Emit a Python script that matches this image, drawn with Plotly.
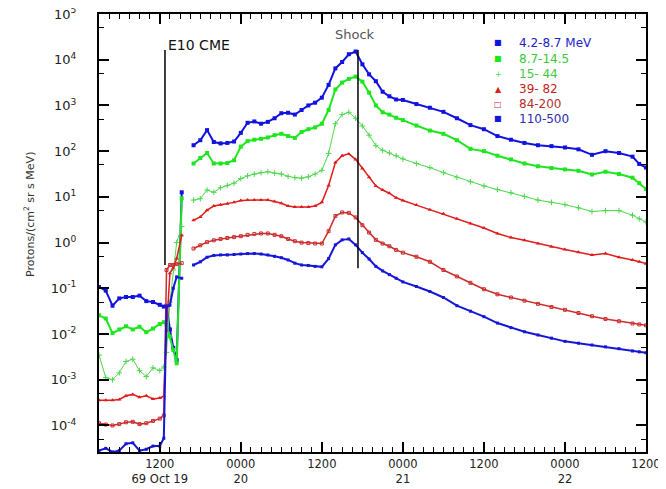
import pandas as pd
import plotly.graph_objects as go

# ---------------- data (log10 of proton flux) ----------------
BASE = pd.Timestamp("1989-10-19 00:00")

# hours since 19 Oct 00:00
HOURS_PRE = [3, 4, 5, 6, 7, 8, 9, 10, 11, 12, 12.6]
HOURS_SPIKE = [13.0, 13.5, 14.0, 14.5, 15.25]
HOURS_GAP = [16.0]
HOURS_MAIN = [17, 18, 19, 20, 21, 22, 23, 24, 25, 26, 27, 28, 29, 30, 31, 32,
              33, 34, 35, 36, 37, 38, 39, 40, 41, 42, 43, 44, 45, 46, 47, 48,
              50, 52, 54, 56, 58, 60, 62, 64, 66, 68, 70, 72, 74, 76, 78, 80, 82,
              83, 84]

CHANNELS = ["4.2-8.7 MeV", "8.7-14.5", "15- 44", "39- 82", "84-200", "110-500"]

# 4.2-8.7 MeV
LOG_A_PRE = [-0.97, -1.05, -1.38, -1.22, -1.19, -1.19, -1.16, -1.28, -1.30, -1.36, -1.40]
LOG_A_SPIKE = [-1.38, -1.90, -2.30, -2.57, 1.10]
LOG_A_MAIN = [2.13, 2.24, 2.46, 2.20, 2.17, 2.18, 2.21, 2.40, 2.62, 2.65, 2.60, 2.64, 2.72, 2.83, 2.84, 2.80,
              2.90, 3.00, 3.06, 3.17, 3.45, 3.81, 3.95, 4.12, 4.18, 3.90, 3.68, 3.53, 3.30, 3.20, 3.13, 3.12,
              3.03, 2.95, 2.86, 2.72, 2.57, 2.48, 2.33, 2.25, 2.18, 2.13, 2.11, 2.08, 2.04, 1.92, 2.00, 1.96, 1.88,
              1.72, 1.64]

# 8.7-14.5 MeV
LOG_B_PRE = [-1.59, -1.66, -1.98, -1.90, -1.83, -1.90, -1.84, -1.96, -1.88, -1.78, -1.74]
LOG_B_SPIKE = [-1.80, -2.05, -2.35, -2.64, 0.97]
LOG_B_MAIN = [1.73, 1.85, 1.96, 1.73, 1.73, 1.74, 1.80, 2.10, 2.22, 2.25, 2.27, 2.30, 2.35, 2.38, 2.33, 2.29,
              2.42, 2.48, 2.52, 2.60, 2.90, 3.35, 3.50, 3.58, 3.63, 3.52, 3.28, 3.00, 2.85, 2.80, 2.73, 2.68,
              2.56, 2.45, 2.38, 2.24, 2.05, 2.00, 1.90, 1.82, 1.73, 1.67, 1.63, 1.60, 1.57, 1.49, 1.55, 1.50, 1.42,
              1.30, 1.17]

# 15-44 MeV
LOG_C_PRE = [-2.46, -2.95, -3.00, -2.85, -2.60, -2.55, -2.80, -2.93, -2.74, -2.80, -2.72]
LOG_C_SPIKE = [-2.40, -1.30, -0.60, 0.00, 0.35]
LOG_C_MAIN = [0.93, 0.96, 1.15, 1.10, 1.20, 1.25, 1.30, 1.40, 1.46, 1.50, 1.53, 1.55, 1.52, 1.50, 1.45, 1.42,
              1.41, 1.44, 1.50, 1.58, 1.95, 2.60, 2.80, 2.85, 2.72, 2.55, 2.35, 2.12, 2.02, 1.96, 1.90, 1.83,
              1.73, 1.64, 1.53, 1.43, 1.33, 1.24, 1.16, 1.09, 1.01, 0.93, 0.88, 0.83, 0.76, 0.68, 0.70, 0.70, 0.60,
              0.52, 0.45]

# 39-82 MeV
LOG_D_PRE = [-3.45, -3.45, -3.45, -3.43, -3.35, -3.32, -3.38, -3.35, -3.42, -3.40, -3.36]
LOG_D_SPIKE = [-1.92, -0.67, -0.55, -0.35, 0.16]
LOG_D_MAIN = [0.49, 0.56, 0.71, 0.80, 0.83, 0.85, 0.88, 0.92, 0.93, 0.93, 0.93, 0.93, 0.90, 0.86, 0.80, 0.78,
              0.78, 0.78, 0.80, 0.88, 1.25, 1.75, 1.90, 1.94, 1.82, 1.62, 1.43, 1.24, 1.15, 1.08, 0.98, 0.92,
              0.82, 0.72, 0.63, 0.52, 0.42, 0.32, 0.20, 0.11, 0.05, -0.02, -0.09, -0.15, -0.21, -0.27, -0.24, -0.32, -0.38,
              -0.42, -0.46]

# 84-200 MeV
LOG_E_PRE = [-3.95, -3.98, -4.00, -3.97, -3.93, -3.92, -3.97, -3.95, -3.90, -3.85, -3.78]
LOG_E_SPIKE = [-0.60, -0.49, -0.49, -0.47, -0.45]
LOG_E_MAIN = [-0.13, -0.06, 0.01, 0.05, 0.08, 0.10, 0.12, 0.14, 0.17, 0.19, 0.20, 0.20, 0.17, 0.14, 0.08, 0.03,
              0.00, -0.01, -0.02, -0.02, 0.25, 0.58, 0.66, 0.65, 0.55, 0.38, 0.22, 0.06, -0.02, -0.08, -0.16, -0.22,
              -0.31, -0.42, -0.60, -0.74, -0.88, -1.02, -1.13, -1.20, -1.27, -1.34, -1.41, -1.47, -1.54, -1.61, -1.67, -1.72, -1.77,
              -1.79, -1.81]

# 110-500 MeV
LOG_F_PRE = [-4.55, -4.50, -4.58, -4.55, -4.40, -4.38, -4.55, -4.52, -4.45, -4.45, -4.28]
LOG_F_SPIKE = [-1.40, -1.37, -1.00, -0.75, -0.78]
LOG_F_MAIN = [-0.49, -0.42, -0.32, -0.28, -0.27, -0.27, -0.26, -0.25, -0.24, -0.24, -0.25, -0.27, -0.30, -0.33, -0.38, -0.45,
              -0.49, -0.50, -0.52, -0.53, -0.35, -0.05, 0.06, 0.08, -0.05, -0.22, -0.36, -0.52, -0.62, -0.70, -0.78, -0.86,
              -0.96, -1.07, -1.20, -1.38, -1.50, -1.62, -1.76, -1.86, -1.95, -2.02, -2.09, -2.16, -2.20, -2.24, -2.28, -2.32, -2.37,
              -2.39, -2.41]

# event markers (hours since 19 Oct 00:00) and their vertical extent (log10 flux)
CME_HOUR = 12.77
SHOCK_HOUR = 41.35
CME_LOG_SPAN = [4.21, -0.49]
SHOCK_LOG_SPAN = [4.21, -0.56]

# x-axis ticks
TICK_HOURS = [12, 24, 36, 48, 60, 72, 84]
TICK_TEXT = ["1200<br>69 Oct 19", "0000<br>20", "1200", "0000<br>21", "1200", "0000<br>22", "1200"]
X_RANGE_HOURS = [3, 84]
Y_LOG_RANGE = [-4.58, 5]
Y_DECADES = [-4, -3, -2, -1, 0, 1, 2, 3, 4, 5]

# ---------------- styling ----------------
LINE_COLORS = ["#1212e0", "#1ee61e", "#4cd84c", "#e01c1c", "#cc2c2c", "#1616d8"]
TEXT_COLORS = ["#2424c4", "#36c836", "#44c844", "#c42424", "#b43030", "#2c2cb4"]
LINE_WIDTHS = [2.0, 2.0, 1.0, 1.5, 1.5, 2.0]
MARKERS = ["square", "square", "cross-thin", "triangle-up", "square-open", "square"]
MARKER_SIZES = [4, 4, 4, 4, 3, 3]
LEGEND_GLYPHS = ["■", "■", "+", "▲", "□", "■"]
FONT = "DejaVu Sans"


def to_time(h):
    return BASE + pd.Timedelta(hours=h)


def build(pre, spike, main):
    hours = HOURS_PRE + HOURS_SPIKE + HOURS_GAP + HOURS_MAIN
    vals = pre + spike + [None] + main
    x = [to_time(h) for h in hours]
    y = [None if v is None else 10 ** v for v in vals]
    return x, y


SERIES = [
    (LOG_A_PRE, LOG_A_SPIKE, LOG_A_MAIN),
    (LOG_B_PRE, LOG_B_SPIKE, LOG_B_MAIN),
    (LOG_C_PRE, LOG_C_SPIKE, LOG_C_MAIN),
    (LOG_D_PRE, LOG_D_SPIKE, LOG_D_MAIN),
    (LOG_E_PRE, LOG_E_SPIKE, LOG_E_MAIN),
    (LOG_F_PRE, LOG_F_SPIKE, LOG_F_MAIN),
]

fig = go.Figure()

for i, (pre, spike, main) in enumerate(SERIES):
    x, y = build(pre, spike, main)
    mk = dict(symbol=MARKERS[i], size=MARKER_SIZES[i], color=LINE_COLORS[i])
    if MARKERS[i] in ("cross-thin", "square-open"):
        mk["line"] = dict(color=LINE_COLORS[i], width=1)
    fig.add_trace(go.Scatter(
        x=x, y=y, name=CHANNELS[i], mode="lines+markers",
        line=dict(color=LINE_COLORS[i], width=LINE_WIDTHS[i]),
        marker=mk, connectgaps=False, showlegend=False,
    ))

# vertical event lines
for hour, span in ((CME_HOUR, CME_LOG_SPAN), (SHOCK_HOUR, SHOCK_LOG_SPAN)):
    fig.add_trace(go.Scatter(
        x=[to_time(hour), to_time(hour)], y=[10 ** span[0], 10 ** span[1]],
        mode="lines", line=dict(color="black", width=1.5),
        showlegend=False, hoverinfo="skip",
    ))

# ---------------- layout ----------------
# The page's default body margin shifts the figure by 8 px, so the figure is
# sized/placed to land the plot frame at page pixels x 99..646, y 14..452.
PAGE_OFFSET = 8
W, H = 666 - PAGE_OFFSET, 489 - PAGE_OFFSET
FRAME_LEFT, FRAME_RIGHT, FRAME_TOP, FRAME_BOTTOM = 99, 646, 14, 452
L = FRAME_LEFT - PAGE_OFFSET
R = W - (FRAME_RIGHT - PAGE_OFFSET)
T = FRAME_TOP - PAGE_OFFSET
B = H - (FRAME_BOTTOM - PAGE_OFFSET)
plot_w = FRAME_RIGHT - FRAME_LEFT
plot_h = FRAME_BOTTOM - FRAME_TOP


def px_x(px):
    return (px - FRAME_LEFT) / plot_w


def px_y(py):
    return (FRAME_BOTTOM - py) / plot_h


annotations = []

# legend (coloured text with small glyph markers)
LEGEND_ROWS_PX = [43, 59, 74, 89, 104, 119]
for i, name in enumerate(CHANNELS):
    annotations.append(dict(
        x=px_x(498), y=px_y(LEGEND_ROWS_PX[i]), xref="paper", yref="paper",
        text=LEGEND_GLYPHS[i], showarrow=False, xanchor="center", yanchor="middle",
        font=dict(family=FONT, size=8, color=LINE_COLORS[i]),
    ))
    annotations.append(dict(
        x=px_x(517), y=px_y(LEGEND_ROWS_PX[i]), xref="paper", yref="paper",
        text=name, showarrow=False, xanchor="left", yanchor="middle",
        font=dict(family=FONT, size=12, color=TEXT_COLORS[i]),
    ))

# event labels
annotations.append(dict(
    x=to_time(CME_HOUR), y=px_y(45), xref="x", yref="paper", text="E10 CME",
    showarrow=False, xanchor="left", yanchor="middle", xshift=1,
    font=dict(family=FONT, size=14, color="#111"),
))
annotations.append(dict(
    x=to_time(SHOCK_HOUR), y=px_y(34), xref="x", yref="paper", text="Shock",
    showarrow=False, xanchor="center", yanchor="middle", xshift=-3,
    font=dict(family=FONT, size=13, color="#555"),
))

# y-axis title
annotations.append(dict(
    x=px_x(30), y=px_y(215), xref="paper", yref="paper",
    text="Protons/(cm<sup>2</sup> sr s MeV)", textangle=-90, showarrow=False,
    xanchor="center", yanchor="middle",
    font=dict(family=FONT, size=11, color="#333"),
))

fig.update_layout(
    width=W, height=H,
    margin=dict(l=L, r=R, t=T, b=B, autoexpand=False),
    paper_bgcolor="white", plot_bgcolor="white",
    showlegend=False,
    annotations=annotations,
    font=dict(family=FONT, color="#222"),
)

fig.update_xaxes(
    type="date",
    range=[to_time(X_RANGE_HOURS[0]), to_time(X_RANGE_HOURS[1])],
    tickmode="array",
    tickvals=[to_time(h) for h in TICK_HOURS],
    ticktext=TICK_TEXT,
    ticks="inside", ticklen=10, tickwidth=1.5, tickcolor="black",
    showline=True, linecolor="black", linewidth=2, mirror="ticks",
    showgrid=False, zeroline=False,
    tickfont=dict(family=FONT, size=11.5, color="#222"),
    ticklabelstandoff=0,
    ticklabeloverflow="allow",
    minor=dict(dtick=1.5 * 3600 * 1000, tick0=str(BASE), ticks="inside",
               ticklen=5, tickwidth=1, tickcolor="black", showgrid=False),
)

fig.update_yaxes(
    type="log",
    range=Y_LOG_RANGE,
    tickmode="array",
    tickvals=[10 ** k for k in Y_DECADES],
    ticktext=[f"10<sup>{k}</sup>" for k in Y_DECADES],
    ticks="inside", ticklen=10, tickwidth=1.5, tickcolor="black",
    showline=True, linecolor="black", linewidth=2, mirror="ticks",
    showgrid=False, zeroline=False,
    tickfont=dict(family=FONT, size=13, color="#222"),
    ticklabelstandoff=18,
    ticklabeloverflow="allow",
    minor=dict(tickvals=[5 * 10 ** k for k in range(-5, 5)], ticks="inside",
               ticklen=5, tickwidth=1, tickcolor="black", showgrid=False),
)

fig.write_html("out.html")
